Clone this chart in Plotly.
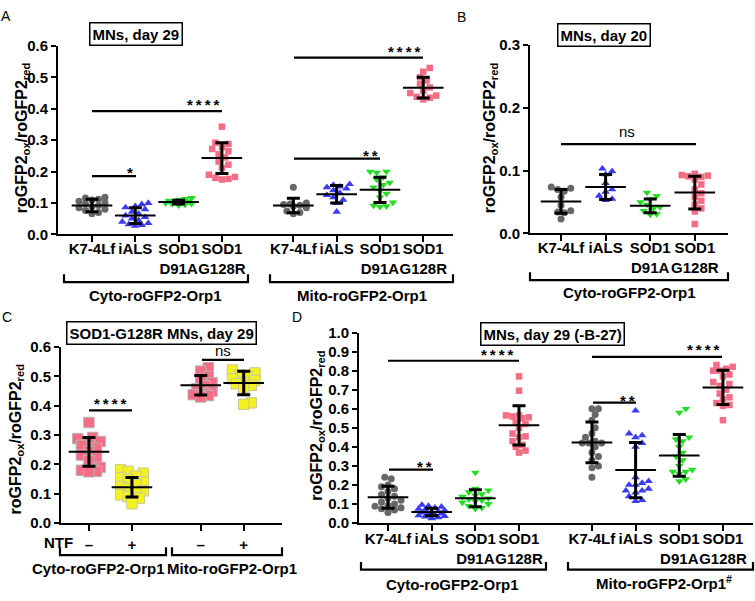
import plotly.graph_objects as go

W, H = 755, 601
FONT = "Liberation Sans, Arial, Helvetica, sans-serif"

# ---------------- data ----------------
cat_labels = ["K7-4Lf", "iALS", "SOD1<br>D91A", "SOD1<br>G128R"]
ntf_labels = ["–", "+"]

# Panel A  (MNs, day 29)
A_cyto_K7 = [0.118, 0.116, 0.112, 0.110, 0.106, 0.101, 0.097, 0.092, 0.088, 0.085, 0.080, 0.076, 0.070, 0.066]
A_cyto_iALS = [0.100, 0.096, 0.090, 0.086, 0.080, 0.072, 0.066, 0.060, 0.055, 0.050, 0.045, 0.040, 0.036, 0.032, 0.030, 0.027]
A_cyto_D91A = [0.116, 0.113, 0.110, 0.108, 0.106, 0.104, 0.102, 0.100, 0.098, 0.097, 0.095, 0.093]
A_cyto_G128R = [0.343, 0.292, 0.288, 0.278, 0.272, 0.265, 0.255, 0.245, 0.232, 0.222, 0.212, 0.190, 0.183, 0.180, 0.177, 0.175]
A_mito_K7 = [0.150, 0.100, 0.097, 0.095, 0.093, 0.090, 0.085, 0.075, 0.070, 0.066]
A_mito_iALS = [0.160, 0.157, 0.152, 0.150, 0.146, 0.140, 0.132, 0.125, 0.118, 0.110, 0.100, 0.072]
A_mito_D91A = [0.200, 0.200, 0.197, 0.182, 0.175, 0.165, 0.158, 0.150, 0.140, 0.130, 0.118, 0.102, 0.092, 0.090, 0.088]
A_mito_G128R = [0.530, 0.518, 0.500, 0.490, 0.478, 0.468, 0.458, 0.450, 0.442, 0.438, 0.435, 0.430]
A_mean = [0.092, 0.060, 0.103, 0.243, 0.092, 0.128, 0.142, 0.467]
A_sd = [0.020, 0.025, 0.006, 0.049, 0.023, 0.028, 0.040, 0.033]

# Panel B  (MNs, day 20)
B_K7 = [0.074, 0.072, 0.070, 0.067, 0.058, 0.045, 0.036, 0.034, 0.033, 0.023]
B_iALS = [0.103, 0.099, 0.094, 0.080, 0.070, 0.066, 0.060, 0.055, 0.053]
B_D91A = [0.065, 0.060, 0.055, 0.050, 0.046, 0.042, 0.040, 0.036, 0.031, 0.030]
B_G128R = [0.095, 0.093, 0.092, 0.091, 0.090, 0.086, 0.078, 0.070, 0.064, 0.058, 0.052, 0.046, 0.040, 0.035, 0.015]
B_mean = [0.051, 0.074, 0.044, 0.065]
B_sd = [0.019, 0.020, 0.011, 0.026]

# Panel C  (SOD1-G128R MNs, day 29, NTF - / +)
C_cyto_minus = A_cyto_G128R
C_cyto_plus = [0.182, 0.176, 0.170, 0.160, 0.155, 0.148, 0.140, 0.132, 0.124, 0.118, 0.110, 0.102, 0.096, 0.090, 0.085, 0.066]
C_mito_minus = A_mito_G128R
C_mito_plus = [0.522, 0.512, 0.505, 0.500, 0.492, 0.486, 0.480, 0.475, 0.470, 0.462, 0.410, 0.405]
C_mean = [0.243, 0.122, 0.470, 0.478]
C_sd = [0.049, 0.033, 0.033, 0.040]

# Panel D  (MNs, day 29 (-B-27))
D_cyto_K7 = [0.240, 0.232, 0.200, 0.190, 0.180, 0.165, 0.150, 0.140, 0.130, 0.120, 0.110, 0.100, 0.092, 0.088, 0.080, 0.075, 0.068, 0.055]
D_cyto_iALS = [0.095, 0.090, 0.085, 0.080, 0.075, 0.070, 0.066, 0.062, 0.058, 0.055, 0.050, 0.048, 0.044, 0.040, 0.036, 0.034, 0.030, 0.025]
D_cyto_D91A = [0.265, 0.180, 0.172, 0.162, 0.152, 0.145, 0.138, 0.130, 0.125, 0.120, 0.115, 0.108, 0.100, 0.090, 0.080, 0.075]
D_cyto_G128R = [0.770, 0.695, 0.565, 0.565, 0.560, 0.555, 0.550, 0.530, 0.520, 0.500, 0.470, 0.455, 0.450, 0.430, 0.410, 0.400, 0.380, 0.370]
D_mito_K7 = [0.600, 0.600, 0.570, 0.540, 0.500, 0.470, 0.450, 0.430, 0.420, 0.420, 0.420, 0.400, 0.370, 0.350, 0.330, 0.300, 0.290, 0.240]
D_mito_iALS = [0.590, 0.470, 0.460, 0.450, 0.420, 0.400, 0.240, 0.220, 0.210, 0.200, 0.200, 0.180, 0.170, 0.170, 0.160, 0.140, 0.120, 0.115]
D_mito_D91A = [0.600, 0.580, 0.450, 0.440, 0.430, 0.400, 0.370, 0.350, 0.330, 0.300, 0.280, 0.270, 0.270, 0.260, 0.230, 0.220]
D_mito_G128R = [0.830, 0.820, 0.810, 0.800, 0.800, 0.780, 0.770, 0.740, 0.730, 0.720, 0.700, 0.680, 0.660, 0.650, 0.630, 0.620, 0.615, 0.540]
D_mean = [0.135, 0.058, 0.130, 0.513, 0.423, 0.278, 0.355, 0.712]
D_sd = [0.058, 0.020, 0.045, 0.103, 0.107, 0.145, 0.110, 0.090]

# ---------------- styles ----------------
GRAY, BLUE, GREEN, PINK, YELLOW = "#676767", "#3a3af5", "#22dd22", "#f46d84", "#f4f21c"
ST_K7 = dict(symbol="circle", color=GRAY, size=7)
ST_IALS = dict(symbol="triangle-up", color=BLUE, size=7.5)
ST_D91A = dict(symbol="triangle-down", color=GREEN, size=7.5)
ST_G128R = dict(symbol="square", color=PINK, size=6.5)
ST_C_PINK = dict(symbol="square", color=PINK, size=10.5, line=dict(color="#b5b5b5", width=1))
ST_C_YEL = dict(symbol="square", color=YELLOW, size=10.5, line=dict(color="#c8c8a0", width=1))


def px(x):
    return x / W


def py(y):
    return 1 - y / H


def positions(n, gap_after, gap):
    return [i + (gap if i >= gap_after else 0) for i in range(n)]


def swarm(vals, ppx, ppy, d, maxoff):
    """Deterministic beeswarm layout (pixel based), offsets limited to +-maxoff px."""
    order = sorted(range(len(vals)), key=lambda i: vals[i])
    placed, off = [], [0.0] * len(vals)
    step = d * 0.5
    cands = [0.0]
    j = 1
    while j * step <= maxoff + 1e-9:
        cands += [j * step, -j * step]
        j += 1
    for i in order:
        yy = vals[i] * ppy
        best, best_d = 0.0, -1.0
        for c in cands:
            md = min([((c - a) ** 2 + (yy - b) ** 2) ** 0.5 for a, b in placed] or [1e9])
            if md >= d:
                best = c
                break
            if md > best_d:
                best, best_d = c, md
        placed.append((best, yy))
        off[i] = best / ppx
    return off


panels = [
    dict(xa="x", ya="y", dx=(58, 453), dy=(38, 232), yr=(0, 0.6), xr=(-0.785, 8.337),
         pos=positions(8, 4, 0.65), ticktext=cat_labels * 2, standoff=-6,
         groups=[A_cyto_K7, A_cyto_iALS, A_cyto_D91A, A_cyto_G128R, A_mito_K7, A_mito_iALS, A_mito_D91A, A_mito_G128R],
         styles=[ST_K7, ST_IALS, ST_D91A, ST_G128R] * 2, mean=A_mean, sd=A_sd, coll=6.5, maxoff=14),
    dict(xa="x2", ya="y2", dx=(530, 728), dy=(37, 231), yr=(0, 0.3), xr=(-0.695, 3.744),
         pos=positions(4, 4, 0), ticktext=cat_labels, standoff=-6,
         groups=[B_K7, B_iALS, B_D91A, B_G128R],
         styles=[ST_K7, ST_IALS, ST_D91A, ST_G128R], mean=B_mean, sd=B_sd, coll=6.5, maxoff=14),
    dict(xa="x3", ya="y3", dx=(61, 282), dy=(348, 529), yr=(0, 0.6), xr=(-0.65, 4.49),
         pos=positions(4, 2, 0.6), ticktext=ntf_labels * 2, standoff=1,
         groups=[C_cyto_minus, C_cyto_plus, C_mito_minus, C_mito_plus],
         styles=[ST_C_PINK, ST_C_YEL, ST_C_PINK, ST_C_YEL], mean=C_mean, sd=C_sd, coll=7.5, maxoff=13),
    dict(xa="x4", ya="y4", dx=(359, 753), dy=(333, 529), yr=(0, 1.0), xr=(-0.664, 8.358),
         pos=positions(8, 4, 0.67), ticktext=cat_labels * 2, standoff=-5,
         groups=[D_cyto_K7, D_cyto_iALS, D_cyto_D91A, D_cyto_G128R, D_mito_K7, D_mito_iALS, D_mito_D91A, D_mito_G128R],
         styles=[ST_K7, ST_IALS, ST_D91A, ST_G128R] * 2, mean=D_mean, sd=D_sd, coll=6.5, maxoff=14),
]

fig = go.Figure()
layout_axes = {}

for k, p in enumerate(panels):
    ppx = (p["dx"][1] - p["dx"][0]) / (p["xr"][1] - p["xr"][0])
    ppy = (p["dy"][1] - p["dy"][0]) / (p["yr"][1] - p["yr"][0])
    for g, vals, st in zip(p["pos"], p["groups"], p["styles"]):
        offs = swarm(vals, ppx, ppy, p["coll"], p["maxoff"])
        fig.add_trace(go.Scatter(
            x=[g + o for o in offs], y=vals, mode="markers", xaxis=p["xa"], yaxis=p["ya"],
            marker=dict(st), showlegend=False, hoverinfo="y", cliponaxis=False))
    fig.add_trace(go.Scatter(
        x=p["pos"], y=p["mean"], mode="markers", xaxis=p["xa"], yaxis=p["ya"],
        marker=dict(symbol="line-ew", size=29, color="black", line=dict(width=2, color="black")),
        error_y=dict(type="data", array=p["sd"], visible=True, thickness=3, width=6.5, color="black"),
        showlegend=False, hoverinfo="y"))

    sfx = "" if k == 0 else str(k + 1)
    layout_axes["xaxis" + sfx] = dict(
        domain=[px(p["dx"][0]), px(p["dx"][1])], range=list(p["xr"]), anchor=p["ya"],
        tickmode="array", tickvals=p["pos"], ticktext=p["ticktext"], tickangle=0,
        showline=True, linecolor="black", linewidth=2, ticks="outside", ticklen=6, tickwidth=2,
        tickcolor="black", showgrid=False, zeroline=False,
        tickfont=dict(family=FONT, size=15, color="black", weight="bold"))
    layout_axes["yaxis" + sfx] = dict(
        domain=[py(p["dy"][1]), py(p["dy"][0])], range=list(p["yr"]), anchor=p["xa"],
        dtick=0.1, tickformat=".1f",
        showline=True, linecolor="black", linewidth=2, ticks="outside", ticklen=5, tickwidth=2,
        tickcolor="black", showgrid=False, zeroline=False,
        tickfont=dict(family=FONT, size=15, color="black", weight="bold"))

shapes = []
annotations = []


def line(x0, y0, x1, y1, w=2.2):
    shapes.append(dict(type="line", xref="paper", yref="paper", x0=px(x0), y0=py(y0), x1=px(x1), y1=py(y1),
                       line=dict(color="black", width=w)))


def bracket(x0, x1, y, h=8):
    shapes.append(dict(type="path", xref="paper", yref="paper",
                       path=f"M {px(x0)},{py(y - h)} L {px(x0)},{py(y)} L {px(x1)},{py(y)} L {px(x1)},{py(y - h)}",
                       line=dict(color="black", width=2.2)))


def text(x, y, t, size=15, bold=True, **kw):
    annotations.append(dict(xref="paper", yref="paper", x=px(x), y=py(y), text=(f"<b>{t}</b>" if bold else t),
                            showarrow=False, xanchor="center", yanchor="middle",
                            font=dict(family=FONT, size=size, color="black"), **kw))


# panel letters
for lab, x, y in [("A", 6, 7), ("B", 461, 8), ("C", 7, 317), ("D", 297, 317)]:
    text(x, y, lab, size=14, bold=False)

# title boxes
for t, x, y in [("MNs, day 29", 135.5, 25.5), ("MNs, day 20", 604, 26.5),
                ("SOD1-G128R MNs, day 29", 161, 333), ("MNs, day 29 (-B-27)", 552, 334.5)]:
    text(x, y, t, bordercolor="black", borderwidth=1.5, borderpad=2, bgcolor="white")

# y-axis titles
ytitle = "roGFP2<sub>ox</sub>/roGFP2<sub>red</sub>"
for x, y in [(22, 133), (490, 133), (16, 443), (318, 429)]:
    text(x, y, ytitle, size=16, textangle=-90)

# significance bars: (x0, x1, y, label, tx, ty)
STAR = "*\u2009*\u2009*\u2009*"
sig = [
    (92, 136, 172, "*", 130, 165), (92, 222, 105, STAR, 203, 95),
    (294, 380, 154, "*\u2009*", 370, 147), (294, 423, 50, STAR, 404, 40),
    (561, 696, 139, "ns", 627, 127),
    (89, 132, 413, STAR, 110, 402), (202, 244, 361, "ns", 223, 352),
    (388, 519, 362, STAR, 497, 352), (389, 433, 474, "*\u2009*", 424, 467),
    (592, 722, 358, STAR, 703, 347), (593, 636, 405, "*\u2009*", 627, 399),
]
for x0, x1, y, lab, tx, ty in sig:
    line(x0, y, x1, y)
    if lab == "ns":
        text(tx, ty - 1, lab, bold=False, size=15)
    else:
        text(tx, ty + 3.5, lab, size=15)

# group brackets and labels
for x0, x1, y in [(64, 248, 281), (270, 453, 281), (530, 728, 279), (60, 166, 562), (172, 282, 562),
                  (361, 546, 577), (568, 753, 577)]:
    bracket(x0, x1, y)

for t, x, y in [("Cyto-roGFP2-Orp1", 155, 295), ("Mito-roGFP2-Orp1", 362, 295),
                ("Cyto-roGFP2-Orp1", 629, 292),
                ("Cyto-roGFP2-Orp1", 99, 576), ("Mito-roGFP2-Orp1", 232, 576),
                ("Cyto-roGFP2-Orp1", 452, 592), ("Mito-roGFP2-Orp1<sup>#</sup>", 664, 590)]:
    text(x, y, t)

text(58, 549, "NTF")

fig.update_layout(
    width=W, height=H, margin=dict(l=0, r=0, t=0, b=0),
    paper_bgcolor="white", plot_bgcolor="white", showlegend=False,
    shapes=shapes, annotations=annotations, **layout_axes)

# move the category labels a little toward / away from their axes
for k, p in enumerate(panels):
    sfx = "" if k == 0 else str(k + 1)
    try:
        fig.layout["xaxis" + sfx].ticklabelstandoff = p["standoff"]
    except Exception:
        pass

fig.write_html("out.html", config={"displayModeBar": False},
               post_script="document.body.style.margin='0px';document.body.style.overflow='hidden';")
